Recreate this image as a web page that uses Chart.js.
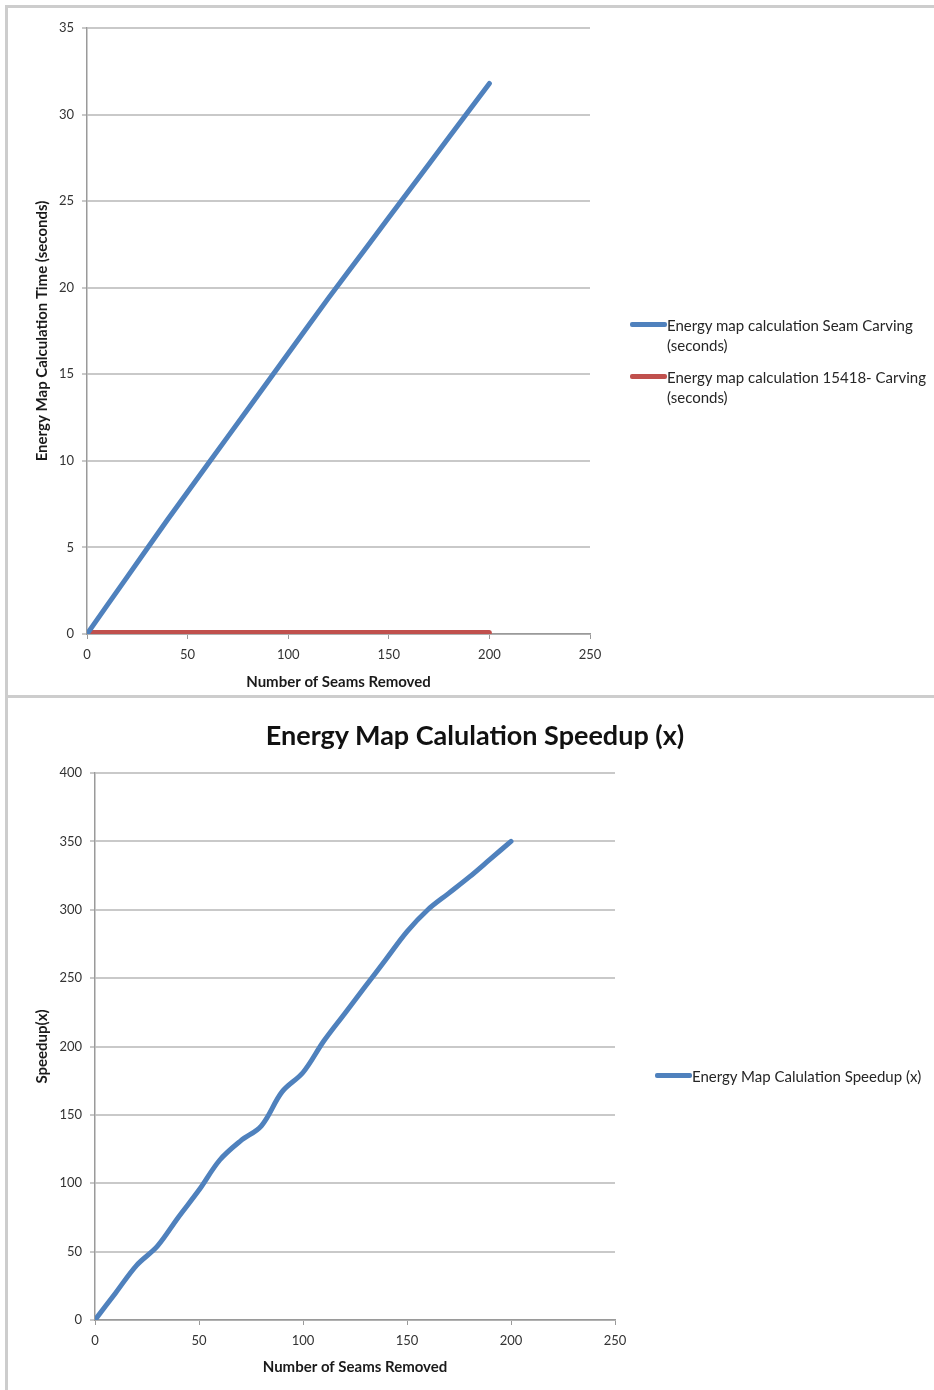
<!DOCTYPE html>
<html>
<head>
<meta charset="utf-8">
<script src="https://cdn.jsdelivr.net/npm/chart.js@4.4.1/dist/chart.umd.min.js"></script>
<style>
  html, body { margin: 0; padding: 0; background: #fff; }
  body { width: 934px; height: 1390px; position: relative; overflow: hidden; font-family: Lato, "DejaVu Sans", sans-serif; }
  .frame { position: absolute; left: 5px; top: 5px; width: 929px; height: 1385px;
           border-top: 3px solid #cdcdcd; border-left: 3px solid #cdcdcd; box-sizing: border-box; }
  .divider { position: absolute; left: 5px; top: 695px; width: 929px; height: 3px; background: #cdcdcd; }
  .panel { position: absolute; left: 8px; width: 926px; }
  #timePanel { top: 8px; height: 687px; }
  #speedPanel { top: 698px; height: 692px; }
  .chart-title { position: absolute; left: 0; top: 719px; width: 950px; text-align: center;
                 font-size: 27px; font-weight: bold; line-height: 32px; color: #111; white-space: nowrap; }
  .legend { position: absolute; font-size: 15px; color: #262626; line-height: 20px; }
  .legend .item { position: relative; padding-left: 37px; margin-bottom: 12px; white-space: nowrap; }
  .legend .swatch { position: absolute; left: 0; top: 7px; width: 37px; height: 5px; border-radius: 2px; }
</style>
</head>
<body>
<div class="frame"></div>
<div class="divider"></div>

<div class="panel" id="timePanel"><canvas id="timeChart"></canvas></div>
<div class="panel" id="speedPanel"><canvas id="speedChart"></canvas></div>

<div class="chart-title">Energy Map Calulation Speedup (x)</div>

<div class="legend" style="left:630px; top:315px; width:300px;">
  <div class="item"><span class="swatch" style="background:#4F81BD"></span>Energy map calculation Seam Carving<br>(seconds)</div>
  <div class="item"><span class="swatch" style="background:#C0504D"></span>Energy map calculation 15418- Carving<br>(seconds)</div>
</div>
<div class="legend" style="left:655px; top:1066px; width:280px;">
  <div class="item"><span class="swatch" style="background:#4F81BD"></span>Energy Map Calulation Speedup (x)</div>
</div>

<script>
// Number of seams removed (x values shared by both charts)
const seamsRemoved = [0, 10, 20, 30, 40, 50, 60, 70, 80, 90, 100, 110, 120, 130, 140, 150, 160, 170, 180, 190, 200];

// Energy map calculation time, seam carving (seconds)
const seamCarvingTime = [0, 1.65, 3.3, 4.95, 6.6, 8.2, 9.8, 11.4, 13.0, 14.6, 16.2, 17.8, 19.4, 20.95, 22.5, 24.05, 25.6, 27.15, 28.7, 30.25, 31.8];

// Energy map calculation time, 15418 carving (seconds)
const carving15418Time = [0.08, 0.083, 0.083, 0.092, 0.088, 0.086, 0.084, 0.087, 0.092, 0.087, 0.09, 0.087, 0.087, 0.086, 0.085, 0.085, 0.085, 0.087, 0.089, 0.09, 0.091];

// Speedup (x)
const speedup = [0, 20, 40, 54, 75, 95, 117, 131, 142, 167, 181, 204, 224, 244, 264, 284, 300, 312, 324, 337, 350];

// Axis ranges
const xAxisRange = { min: 0, max: 250, step: 50 };
const timeAxisRange = { min: 0, max: 35, step: 5 };
const speedAxisRange = { min: 0, max: 400, step: 50 };

const BLUE = '#4F81BD';
const RED = '#C0504D';
const FONT = 'Lato, "DejaVu Sans", sans-serif';
const GRID = '#c9c9c9';
const AXIS = '#9a9a9a';
const TEXT = '#333333';

function toPoints(xs, ys) { return xs.map((x, i) => ({ x: x, y: ys[i] })); }

function xScale(height, titlePadBottom) {
  return {
    type: 'linear', min: xAxisRange.min, max: xAxisRange.max,
    ticks: { stepSize: xAxisRange.step, color: TEXT, font: { family: FONT, size: 13 }, padding: 8, maxRotation: 0 },
    grid: { drawOnChartArea: false, drawTicks: true, tickLength: 5, color: AXIS, lineWidth: 1 },
    border: { color: AXIS, width: 1.5 },
    title: { display: true, text: 'Number of Seams Removed', color: '#1a1a1a',
             font: { family: FONT, size: 15, weight: 'bold' }, padding: { top: 0, bottom: titlePadBottom } },
    afterFit: s => { s.height = height; }
  };
}

function yScale(range, width, title, titlePadTop) {
  return {
    type: 'linear', min: range.min, max: range.max,
    ticks: { stepSize: range.step, color: TEXT, font: { family: FONT, size: 13 }, padding: 8 },
    grid: { color: GRID, lineWidth: 2, drawTicks: true, tickLength: 5 },
    border: { color: AXIS, width: 1.5 },
    title: { display: true, text: title, color: '#1a1a1a',
             font: { family: FONT, size: 15, weight: 'bold' }, padding: { top: titlePadTop, bottom: 0 } },
    afterFit: s => { s.width = width; }
  };
}

const lineStyle = { borderWidth: 5, pointRadius: 0, pointHoverRadius: 0, fill: false, borderCapStyle: 'round', borderJoinStyle: 'round' };

new Chart(document.getElementById('timeChart'), {
  type: 'line',
  data: {
    datasets: [
      Object.assign({ label: 'Energy map calculation Seam Carving (seconds)', data: toPoints(seamsRemoved, seamCarvingTime),
                      borderColor: BLUE, backgroundColor: BLUE, tension: 0 }, lineStyle),
      Object.assign({ label: 'Energy map calculation 15418- Carving (seconds)', data: toPoints(seamsRemoved, carving15418Time),
                      borderColor: RED, backgroundColor: RED, tension: 0 }, lineStyle)
    ]
  },
  options: {
    responsive: true, maintainAspectRatio: false, animation: false,
    layout: { padding: { top: 20, right: 344, bottom: 0, left: 0 } },
    plugins: { legend: { display: false }, tooltip: { enabled: false } },
    scales: {
      x: xScale(61, 4),
      y: yScale(timeAxisRange, 79, 'Energy Map Calculation Time (seconds)', 25)
    }
  }
});

new Chart(document.getElementById('speedChart'), {
  type: 'line',
  data: {
    datasets: [
      Object.assign({ label: 'Energy Map Calulation Speedup (x)', data: toPoints(seamsRemoved, speedup),
                      borderColor: BLUE, backgroundColor: BLUE, tension: 0.35 }, lineStyle)
    ]
  },
  options: {
    responsive: true, maintainAspectRatio: false, animation: false,
    layout: { padding: { top: 75, right: 319, bottom: 0, left: 0 } },
    plugins: { legend: { display: false }, tooltip: { enabled: false } },
    scales: {
      x: xScale(70, 14),
      y: yScale(speedAxisRange, 87, 'Speedup(x)', 25)
    }
  }
});
</script>
</body>
</html>
